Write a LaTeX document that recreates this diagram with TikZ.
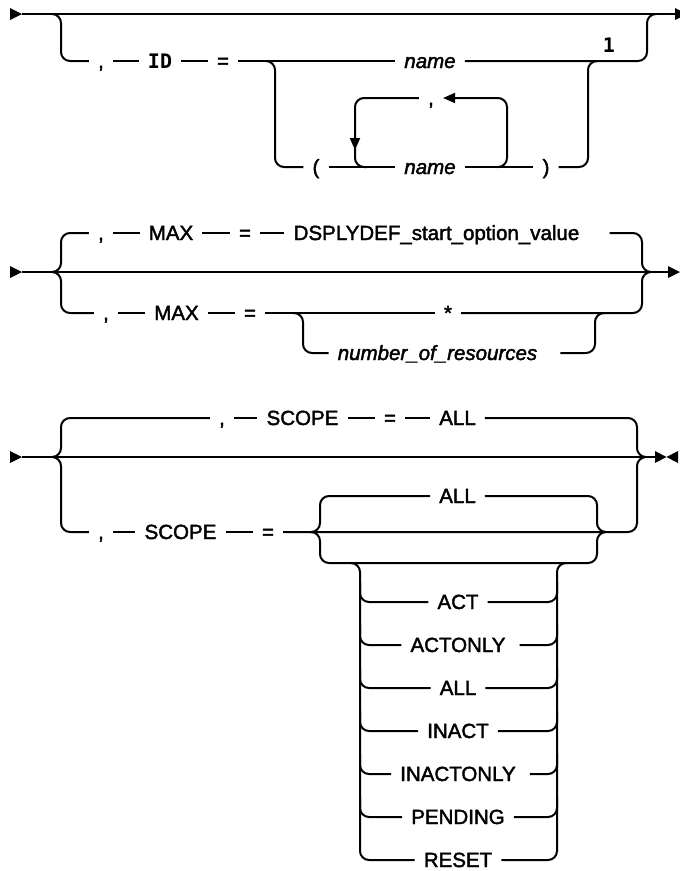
\documentclass[tikz,border=0pt]{standalone}
\usepackage{fontspec}
\setmainfont{Liberation Sans}
\setmonofont{DejaVu Sans Mono}
\newfontfamily\sfmed{Liberation Sans}[FakeBold=2]
\usetikzlibrary{arrows.meta}
\tikzset{
  rail/.style={line width=2pt},
  rr/.style={line width=2pt, rounded corners=9pt},
  lbl/.style={inner xsep=9pt, inner ysep=0pt, text height=14pt, text depth=0pt, font=\fontsize{20.5}{24}\selectfont\sfmed},
  lbli/.style={lbl, font=\fontsize{20.5}{24}\selectfont\sfmed\itshape},
  lblm/.style={lbl, font=\fontsize{20}{24}\selectfont\ttfamily\bfseries},
  tipfill/.style={fill=black},
  arr/.style={-{Triangle[length=12pt,width=10pt]}}
}
\begin{document}
\begin{tikzpicture}[x=1pt,y=-1pt]
\useasboundingbox (0,0) rectangle (680,871);
% ================= top section =================
\coordinate (s1) at (22,14);
\coordinate (e1) at (676,14);
\fill[tipfill] (10,8) -- (s1) -- (10,20) -- cycle;
\draw[rail] (s1) -- (e1);
\begin{scope}
\clip (0,0) rectangle (680,871);
\fill[tipfill] (675,8) -- (687,14) -- (675,20) -- cycle;
\end{scope}
\node[lbl] (c1) at (101,61) {,};
\node[lblm] (id) at (160,61) {ID};
\node[lbl] (eq1) at (223,61) {=};
\node[lbli] (n1) at (430,61) {name};
\node[lblm] (one) at (609,45) {1};
\draw[rr] (52,14) -- (61,14) -- (61,61) -- (c1.west);
\draw[rail] (c1.east) -- (id.west);
\draw[rail] (id.east) -- (eq1.west);
\draw[rail] (eq1.east) -- (n1.west);
\draw[rr] (n1.east) -- (647,61) -- (647,14) -- (656,14);
\node[lbl] (op) at (316,167) {(};
\node[lbl] (c2) at (431,98) {,};
\node[lbli] (n2) at (430,167) {name};
\node[lbl] (cp) at (546,167) {)};
\draw[rr] (265,61) -- (275,61) -- (275,167) -- (op.west);
\draw[rail] (op.east) -- (n2.west);
\draw[rail] (n2.east) -- (cp.west);
\draw[rr] (cp.east) -- (588,167) -- (588,61) -- (598,61);
\draw[rr, arr] (497,167) -- (507,167) -- (507,98) -- (c2.east);
\draw[rr, arr] (c2.west) -- (355,98) -- (355,150);
\draw[rr] (355,145) -- (355,167) -- (367,167);
% ================= middle section =================
\coordinate (s2) at (22,272);
\coordinate (e2) at (668,272);
\fill[tipfill] (10,266) -- (s2) -- (10,278) -- cycle;
\draw[rail] (s2) -- (e2);
\fill[tipfill] (e2) ++(0,-6) -- (680,272) -- (668,278) -- cycle;
\node[lbl] (c3) at (101,233) {,};
\node[lbl] (max1) at (171,233) {MAX};
\node[lbl] (eq2) at (245,233) {=};
\node[lbl] (dsp) at (436.5,233) {DSPLYDEF\_start\_option\_value};
\draw[rr] (52,272) -- (61,272) -- (61,233) -- (c3.west);
\draw[rail] (c3.east) -- (max1.west);
\draw[rail] (max1.east) -- (eq2.west);
\draw[rail] (eq2.east) -- (dsp.west);
\draw[rr] ([xshift=21pt]dsp.east) -- (642,233) -- (642,272) -- (651,272);
\node[lbl] (c4) at (106,313) {,};
\node[lbl] (max2) at (176.5,313) {MAX};
\node[lbl] (eq3) at (250,313) {=};
\node[lbl] (star) at (448,313) {*};
\draw[rr] (52,272) -- (61,272) -- (61,313) -- (c4.west);
\draw[rail] (c4.east) -- (max2.west);
\draw[rail] (max2.east) -- (eq3.west);
\draw[rail] (eq3.east) -- (star.west);
\draw[rr] (star.east) -- (642,313) -- (642,272) -- (651,272);
\node[lbli] (nr) at (437.5,353) {number\_of\_resources};
\draw[rr] (293,313) -- (303,313) -- (303,353) -- (nr.west);
\draw[rr] ([xshift=14pt]nr.east) -- (595,353) -- (595,313) -- (605,313);
% ================= bottom section =================
\coordinate (s3) at (22,457);
\coordinate (e3) at (655,457);
\fill[tipfill] (10,451) -- (s3) -- (10,463) -- cycle;
\draw[rail] (s3) -- (e3);
\fill[tipfill] (655,451) -- (666.5,457) -- (655,463) -- cycle;
\fill[tipfill] (678,451) -- (666.5,457) -- (678,463) -- cycle;
\node[lbl] (c5) at (222,418) {,};
\node[lbl] (sc1) at (302.5,418) {SCOPE};
\node[lbl] (eq4) at (390,418) {=};
\node[lbl] (all1) at (457.5,418) {ALL};
\draw[rr] (52,457) -- (61,457) -- (61,418) -- (c5.west);
\draw[rail] (c5.east) -- (sc1.west);
\draw[rail] (sc1.east) -- (eq4.west);
\draw[rail] (eq4.east) -- (all1.west);
\draw[rr] (all1.east) -- (637,418) -- (637,457) -- (646,457);
\node[lbl] (c6) at (101,532) {,};
\node[lbl] (sc2) at (180.5,532) {SCOPE};
\node[lbl] (eq5) at (268,532) {=};
\draw[rr] (52,457) -- (61,457) -- (61,532) -- (c6.west);
\draw[rail] (c6.east) -- (sc2.west);
\draw[rail] (sc2.east) -- (eq5.west);
\draw[rr] (eq5.east) -- (637,532) -- (637,457) -- (646,457);
\node[lbl] (all2) at (457.5,496) {ALL};
\draw[rr] (310,532) -- (320,532) -- (320,496) -- (all2.west);
\draw[rr] (all2.east) -- (597,496) -- (597,532) -- (606,532);
\draw[rr] (310,532) -- (320,532) -- (320,563) -- (597,563) -- (597,532) -- (606,532);
% list
\node[lbl] (o1) at (458,602) {ACT};
\node[lbl] (o2) at (458,645) {ACTONLY};
\node[lbl] (o3) at (458,688) {ALL};
\node[lbl] (o4) at (458,731) {INACT};
\node[lbl] (o5) at (458,774) {INACTONLY};
\node[lbl] (o6) at (458,817) {PENDING};
\node[lbl] (o7) at (458,860) {RESET};
\draw[rr] (350,563) -- (360,563) -- (360,860) -- (o7.west);
\draw[rr] (567,563) -- (557,563) -- (557,860) -- (o7.east);
\foreach \n/\yy/\ex in {o1/602/0, o2/645/5, o3/688/0, o4/731/0, o5/774/5, o6/817/0}{
  \draw[rr] (360,\yy-20) -- (360,\yy) -- (\n.west);
  \draw[rr] ([xshift=\ex pt]\n.east) -- (557,\yy) -- (557,\yy-20);
}
\end{tikzpicture}
\end{document}
